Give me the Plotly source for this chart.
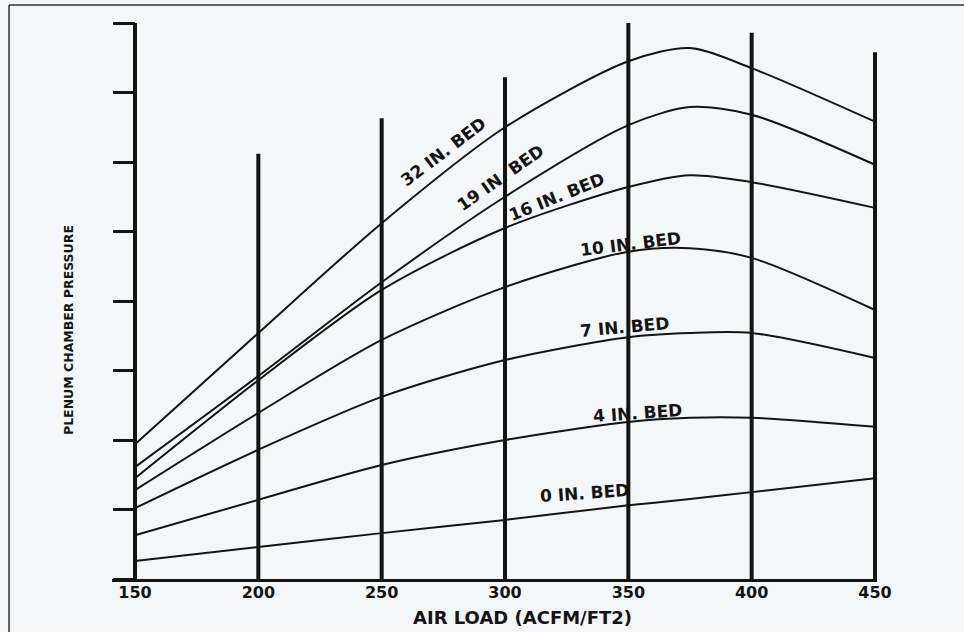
import plotly.graph_objects as go

# ---- data ----
air_load = [150, 200, 250, 300, 350, 375, 400, 450]
bed_names = ["32 IN. BED", "19 IN. BED", "16 IN. BED", "10 IN. BED", "7 IN. BED", "4 IN. BED", "0 IN. BED"]
p_32 = [1.94, 3.54, 5.12, 6.50, 7.45, 7.64, 7.35, 6.58]
p_19 = [1.61, 2.92, 4.27, 5.50, 6.53, 6.79, 6.68, 5.96]
p_16 = [1.45, 2.86, 4.16, 5.05, 5.64, 5.81, 5.71, 5.34]
p_10 = [1.28, 2.39, 3.44, 4.20, 4.71, 4.76, 4.62, 3.87]
p_7 = [1.02, 1.86, 2.62, 3.15, 3.48, 3.54, 3.54, 3.18]
p_4 = [0.63, 1.14, 1.64, 2.00, 2.26, 2.32, 2.32, 2.19]
p_0 = [0.26, 0.46, 0.66, 0.85, 1.06, 1.15, 1.25, 1.45]
series = [p_32, p_19, p_16, p_10, p_7, p_4, p_0]

# vertical reference bars (x position, height)
bar_x = [150, 200, 250, 300, 350, 400, 450]
bar_top = [8.0, 6.12, 6.63, 7.22, 8.0, 7.86, 7.58]

# label anchor positions and angles for curve names
label_x = [274.9, 298.0, 320.7, 350.7, 348.6, 353.9, 332.4]
label_y = [6.14, 5.77, 5.50, 4.82, 3.63, 2.39, 1.24]
label_angle = [-37, -35, -22, -7, -5, -4, -4]

y_ticks = [0, 1, 2, 3, 4, 5, 6, 7, 8]
x_ticks = [150, 200, 250, 300, 350, 400, 450]

INK = "#141414"
BG = "#f4f7f8"
WIDE = "DejaVu Sans, Verdana, sans-serif"

fig = go.Figure()

# vertical bars
vx, vy = [], []
for x, t in zip(bar_x, bar_top):
    vx += [x, x, None]
    vy += [0, t, None]
fig.add_trace(go.Scatter(x=vx, y=vy, mode="lines", line=dict(color=INK, width=4),
                         hoverinfo="skip", showlegend=False))

for name, vals in zip(bed_names, series):
    fig.add_trace(go.Scatter(x=air_load, y=vals, mode="lines", name=name,
                             line=dict(color=INK, width=2, shape="spline", smoothing=0.8),
                             showlegend=False))

for name, lx, ly, ang in zip(bed_names, label_x, label_y, label_angle):
    fig.add_annotation(x=lx, y=ly, text=name, showarrow=False, textangle=ang,
                       font=dict(family=WIDE, size=17, color=INK, weight="bold"))

# axis titles
fig.add_annotation(xref="paper", yref="paper", x=0.536, y=-0.0668, text="AIR LOAD (ACFM/FT2)",
                   showarrow=False, xanchor="center", yanchor="middle",
                   font=dict(family=WIDE, size=18, color=INK, weight="bold"))
fig.add_annotation(xref="paper", yref="paper", x=-0.0575, y=0.4376, text="PLENUM CHAMBER PRESSURE",
                   showarrow=False, textangle=-90, xanchor="center", yanchor="middle",
                   font=dict(family=WIDE, size=12.5, color=INK, weight="bold"))

# scan frame (left and top edges)
fig.add_shape(type="line", xref="paper", yref="paper", x0=-0.1346, x1=-0.1346, y0=-0.2, y1=1.0088,
              line=dict(color="#333333", width=1.5))
fig.add_shape(type="line", xref="paper", yref="paper", x0=-0.1346, x1=1.2, y0=1.0088, y1=1.0088,
              line=dict(color="#333333", width=1.5))

fig.update_layout(
    width=964, height=632,
    margin=dict(l=112, r=87, t=10, b=53),
    paper_bgcolor=BG, plot_bgcolor=BG,
    showlegend=False,
    xaxis=dict(range=[140.676, 450.81], tickvals=x_ticks, ticktext=[str(v) for v in x_ticks],
               showgrid=False, zeroline=False, showline=True, linecolor=INK, linewidth=2.5,
               ticks="", ticklabelstandoff=-3,
               tickfont=dict(family=WIDE, size=16, color=INK, weight="bold")),
    yaxis=dict(range=[0, 8.187], tickvals=y_ticks, showticklabels=False, showgrid=False,
               zeroline=False, showline=False, anchor="free", position=0.03007,
               ticks="outside", ticklen=22, tickwidth=2.5, tickcolor=INK),
)

fig.write_html("out.html", config={"displayModeBar": False},
               post_script="document.body.style.margin='0';document.body.style.background='#f4f7f8';")
